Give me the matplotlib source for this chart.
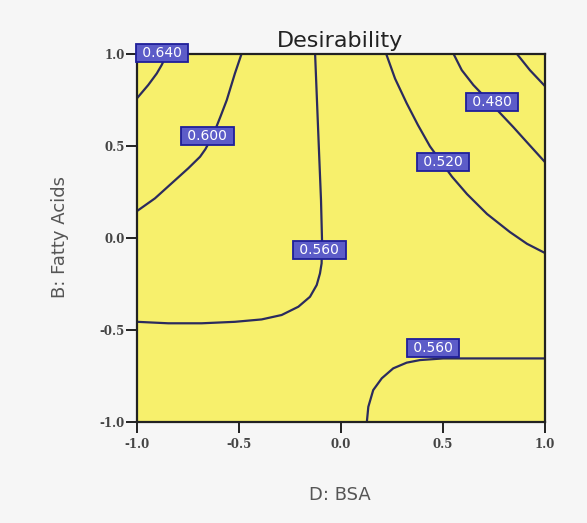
import matplotlib
matplotlib.use('Agg')
import matplotlib.pyplot as plt

# contour lines (D: BSA on x, B: Fatty Acids on y)
c640_x = [-1.0, -0.945, -0.903, -0.879, -0.858, -0.848]
c640_y = [0.757, 0.829, 0.892, 0.938, 0.986, 1.0]

c600_x = [-1.0, -0.912, -0.830, -0.749, -0.691, -0.665, -0.640, -0.615, -0.590, -0.560, -0.520, -0.487]
c600_y = [0.144, 0.213, 0.295, 0.376, 0.439, 0.480, 0.530, 0.590, 0.660, 0.747, 0.892, 1.0]

c560a_x = [-0.127, -0.110, -0.098, -0.093, -0.095, -0.103, -0.119, -0.152, -0.209, -0.291,
           -0.389, -0.520, -0.683, -0.847, -1.0]
c560a_y = [1.0, 0.530, 0.204, -0.014, -0.140, -0.195, -0.258, -0.322, -0.376, -0.421,
           -0.445, -0.458, -0.466, -0.466, -0.458]

c520_x = [0.221, 0.265, 0.322, 0.377, 0.436, 0.5, 0.544, 0.618, 0.716, 0.828, 0.912, 1.0]
c520_y = [1.0, 0.864, 0.730, 0.612, 0.496, 0.398, 0.331, 0.236, 0.128, 0.030, -0.034, -0.084]

c480_x = [0.551, 0.592, 0.649, 0.700, 0.760, 0.845, 0.910, 1.0]
c480_y = [1.0, 0.910, 0.829, 0.770, 0.700, 0.600, 0.520, 0.410]

c440_x = [0.861, 0.926, 1.0]
c440_y = [1.0, 0.910, 0.823]

c560b_x = [0.127, 0.134, 0.158, 0.200, 0.256, 0.322, 0.387, 0.501, 1.0]
c560b_y = [-1.0, -0.920, -0.829, -0.765, -0.711, -0.680, -0.666, -0.657, -0.657]

label_text = ['0.640', '0.600', '0.560', '0.520', '0.480', '0.560']
label_x = [-0.877, -0.654, -0.105, 0.5, 0.740, 0.451]
label_y = [1.005, 0.554, -0.068, 0.412, 0.735, -0.602]

ticks = [-1.0, -0.5, 0.0, 0.5, 1.0]
tick_labels = ['-1.0', '-0.5', '0.0', '0.5', '1.0']

fig = plt.figure(figsize=(5.87, 5.23), dpi=100)
fig.patch.set_facecolor('#f6f6f6')
ax = fig.add_axes([0.2334, 0.194, 0.695, 0.7036])
ax.set_facecolor('#f7f06c')

lines = [(c640_x, c640_y), (c600_x, c600_y), (c560a_x, c560a_y),
         (c520_x, c520_y), (c480_x, c480_y), (c440_x, c440_y), (c560b_x, c560b_y)]
for xs, ys in lines:
    ax.plot(xs, ys, color='#2b2b5e', lw=1.6, solid_joinstyle='round')

for t, x, y in zip(label_text, label_x, label_y):
    ax.text(x, y, ' ' + t + ' ', ha='center', va='center', fontsize=10, color='white',
            family='DejaVu Sans', zorder=5, clip_on=False,
            bbox=dict(boxstyle='square,pad=0.15', fc='#5c5cc8', ec='#1e1e9a', lw=1.3))

ax.set_xlim(-1, 1)
ax.set_ylim(-1, 1)
ax.set_xticks(ticks)
ax.set_xticklabels(tick_labels)
ax.set_yticks(ticks)
ax.set_yticklabels(tick_labels)
for lab in ax.get_xticklabels() + ax.get_yticklabels():
    lab.set_family('DejaVu Serif')
    lab.set_fontsize(8.5)
    lab.set_fontweight('bold')
    lab.set_color('#444444')
ax.tick_params(direction='out', length=8, width=1.4, color='#222222')
ax.tick_params(axis='x', pad=4)
ax.tick_params(axis='y', pad=1)
for s in ax.spines.values():
    s.set_linewidth(1.6)
    s.set_color('#222222')

fig.text(340 / 587, 1 - 47 / 523, 'Desirability', ha='center', va='baseline',
         fontsize=16, color='#222222', family='DejaVu Sans')
fig.text(340 / 587, 1 - 495 / 523, 'D: BSA', ha='center', va='center',
         fontsize=13, color='#555555', family='DejaVu Sans')
fig.text(60 / 587, 1 - 237 / 523, 'B: Fatty Acids', ha='center', va='center',
         rotation=90, fontsize=13, color='#555555', family='DejaVu Sans')

plt.savefig('out.png', dpi=100, facecolor=fig.get_facecolor())
